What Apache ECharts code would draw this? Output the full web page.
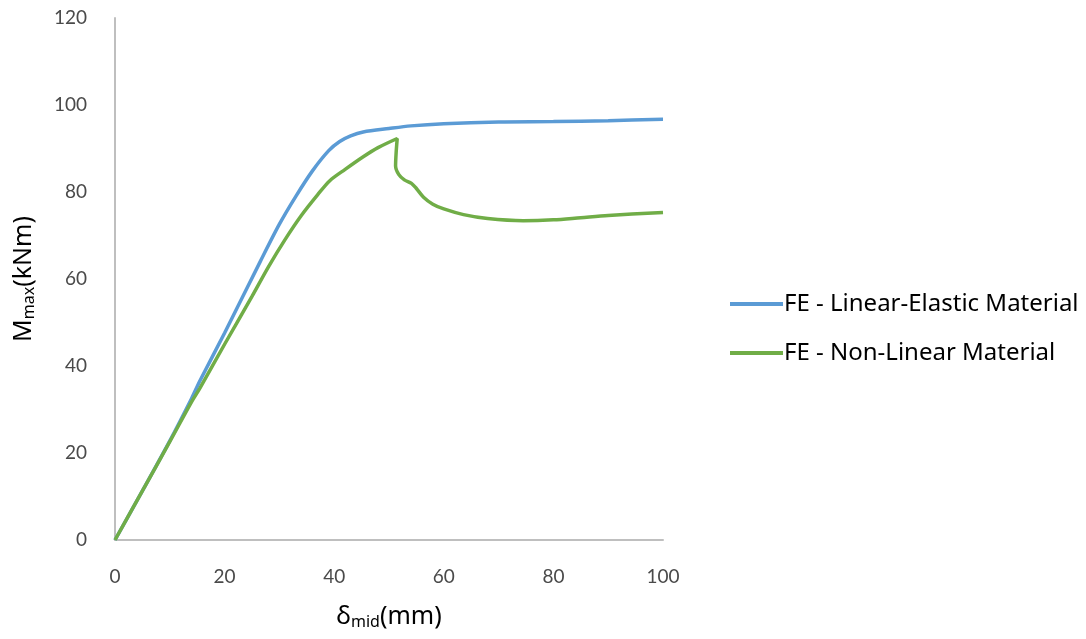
<!DOCTYPE html>
<html>
<head>
<meta charset="utf-8">
<script src="https://cdn.jsdelivr.net/npm/echarts@6/dist/echarts.min.js"></script>
<style>html,body{margin:0;padding:0;background:#fff;}#c{width:1086px;height:639px;}</style>
</head>
<body>
<div id="c"></div>
<script>
const xTicks = [0, 20, 40, 60, 80, 100];
const yTicks = [0, 20, 40, 60, 80, 100, 120];
const seriesNames = ['FE - Linear-Elastic Material', 'FE - Non-Linear Material'];
const linearElastic = [[0,0],[5,11.3],[10,22.8],[14,32.6],[15.5,36.6],[20,47.6],[26.5,64],[30,72.6],[33,79],[36,84.8],[39,89.5],[41,91.6],[43,92.9],[45.3,93.8],[50,94.6],[54,95.2],[60,95.7],[70,96.1],[80,96.2],[90,96.4],[100,96.7]];
const nonLinear = [[0,0],[5,11.3],[10,22.6],[14,31.8],[15.5,34.9],[20,45],[25,56],[28,62.8],[31,69],[34,74.6],[37,79.4],[39.2,82.6],[42,85.2],[45.3,88.1],[48,90.2],[51.5,92.3],[51.3,89],[51.2,86],[51.8,84],[52.8,82.8],[54.1,82.0],[55,80.8],[56.3,78.8],[58,77.2],[60,76.1],[63.6,74.8],[68,73.9],[74.5,73.4],[80,73.6],[85,74.1],[90,74.6],[100,75.3]];

const chart = echarts.init(document.getElementById('c'));
const tickFont = {color:'#4a4a4a', fontSize:19, fontFamily:'Lato, "Open Sans", sans-serif'};
const nameRich = {
  a:{fontSize:25, color:'#000', fontFamily:'"Noto Sans", sans-serif'},
  s:{fontSize:16, color:'#000', fontFamily:'"Noto Sans", sans-serif', verticalAlign:'bottom', padding:[10,0,0,0]}
};
chart.setOption({
  animation:false,
  grid:{left:115, right:423, top:18, bottom:99, containLabel:false, outerBoundsMode:'none'},
  legend:{
    orient:'vertical', left:725, top:287, itemWidth:53, itemHeight:4, itemGap:25,
    icon:'rect',
    textStyle:{color:'#000', fontSize:24, fontFamily:'"Noto Sans", "Open Sans", sans-serif', padding:[0,0,0,-4]},
    data:seriesNames
  },
  xAxis:{
    type:'value', min:xTicks[0], max:xTicks[xTicks.length-1], interval:20,
    axisLine:{lineStyle:{color:'#bfbfbf', width:2}},
    axisTick:{show:false}, splitLine:{show:false},
    axisLabel:Object.assign({margin:27}, tickFont),
    name:'{a|δ}{s|mid}{a|(mm)}', nameLocation:'middle', nameGap:64,
    nameTextStyle:{rich:nameRich}
  },
  yAxis:{
    type:'value', min:yTicks[0], max:yTicks[yTicks.length-1], interval:20,
    axisLine:{show:true, lineStyle:{color:'#bfbfbf', width:2}},
    axisTick:{show:false}, splitLine:{show:false},
    axisLabel:Object.assign({margin:28}, tickFont),
    name:'{a|M}{s|max}{a|(kNm)}', nameLocation:'middle', nameGap:78, nameRotate:90,
    nameTextStyle:{rich:nameRich}
  },
  series:[
    {name:seriesNames[0], type:'line', data:linearElastic, showSymbol:false, symbol:'none', smooth:0.3,
     lineStyle:{color:'#5B9BD5', width:3.5}, itemStyle:{color:'#5B9BD5'}},
    {name:seriesNames[1], type:'line', data:nonLinear, showSymbol:false, symbol:'none', smooth:0.3,
     lineStyle:{color:'#70AD47', width:3.5}, itemStyle:{color:'#70AD47'}}
  ]
});
</script>
</body>
</html>
